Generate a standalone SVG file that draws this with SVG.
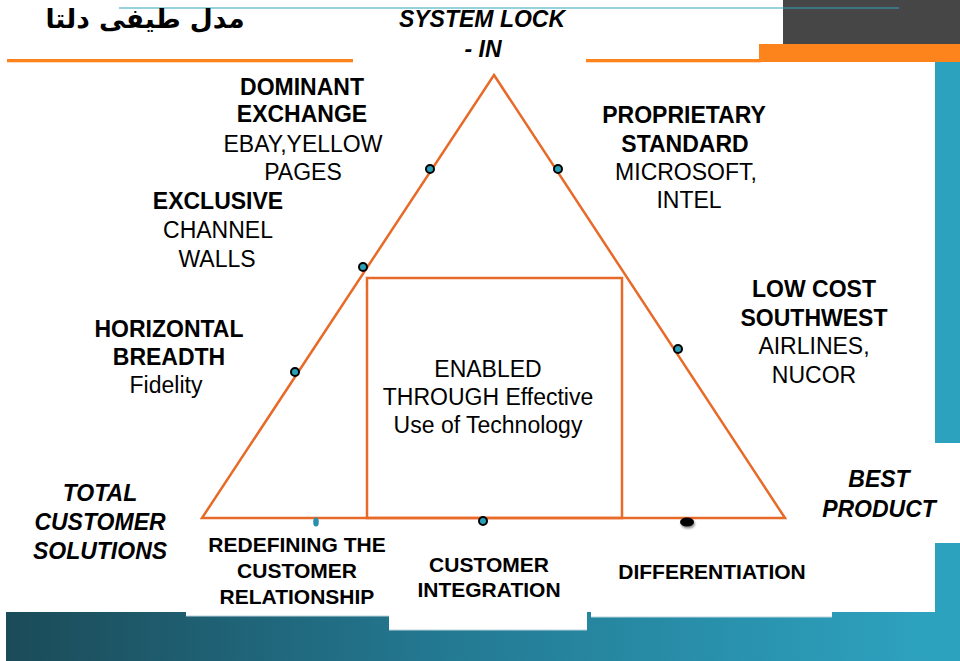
<svg xmlns="http://www.w3.org/2000/svg" width="960" height="661" viewBox="0 0 960 661">
<defs>
<linearGradient id="band" x1="0" y1="0" x2="1" y2="0">
<stop offset="0" stop-color="#1b4b58"/>
<stop offset="0.45" stop-color="#237891"/>
<stop offset="1" stop-color="#2ea5c2"/>
</linearGradient>
<filter id="sh" x="-50%" y="-50%" width="200%" height="200%">
<feDropShadow dx="1" dy="2" stdDeviation="1.2" flood-color="#000" flood-opacity="0.45"/>
</filter>
<style>
text{font-family:"Liberation Sans",Arial,sans-serif;fill:#000;text-anchor:middle}
.b{font-weight:bold;font-size:23px}
.r{font-size:23px}
.bi{font-weight:bold;font-style:italic;font-size:23px}
.s{font-weight:bold;font-size:21px}
.edge{fill:none;stroke:#e86a28;stroke-width:2.5}
.dot{fill:#2aa0b8;stroke:#000;stroke-width:2}
.wb{fill:#fff}
.wl{stroke:#b9d3dc;stroke-width:1}
</style>
</defs>
<rect width="960" height="661" fill="#fff"/>
<g id="decor">
<rect x="6" y="612" width="954" height="49" fill="url(#band)"/>
<rect class="wb" x="186" y="530" width="203" height="86"/>
<rect class="wb" x="389" y="530" width="198" height="100"/>
<rect class="wb" x="591" y="530" width="241" height="87"/>
<line class="wl" x1="186" y1="616" x2="389" y2="616"/>
<line class="wl" x1="389" y1="630" x2="587" y2="630"/>
<line class="wl" x1="591" y1="617" x2="832" y2="617"/>
<rect class="wb" x="832" y="530" width="103" height="82"/>
<rect x="935" y="62" width="25" height="381" fill="#2ca2bf"/>
<rect x="935" y="543" width="25" height="118" fill="#2ca2bf"/>
<rect x="783" y="0" width="177" height="44" fill="#464646"/>
<rect x="759" y="44" width="201" height="18" fill="#fd831c"/>
<rect x="7" y="59" width="346" height="3.3" fill="#fd831c"/>
<rect x="586" y="59" width="175" height="3.3" fill="#fd831c"/>
<line x1="119" y1="8" x2="899" y2="8" stroke="#2ea3c0" stroke-width="1.2"/>
</g>
<g id="title">
<text x="145" y="28" direction="rtl" style="font-family:'DejaVu Sans',sans-serif;font-weight:bold;font-size:26.5px">مدل طیفی دلتا</text>
</g>
<g id="connectors">
<polygon class="edge" points="494,75 785,518 202,518"/>
<rect class="edge" x="367" y="278" width="255" height="240"/>
</g>
<g id="dots">
<circle class="dot" cx="430" cy="169" r="4"/>
<circle class="dot" cx="558" cy="169" r="4"/>
<circle class="dot" cx="363" cy="267" r="4"/>
<circle class="dot" cx="295" cy="372" r="4"/>
<circle class="dot" cx="678" cy="349" r="4"/>
<circle class="dot" cx="483" cy="521" r="4"/>
<ellipse cx="316" cy="522" rx="2.8" ry="4.5" fill="#2a8fab"/>
<ellipse cx="687" cy="522" rx="7" ry="4.5" fill="#000" filter="url(#sh)"/>
</g>
<g id="system-lock-in">
<text class="bi" x="482" y="27">SYSTEM LOCK</text>
<text class="bi" x="483" y="57">- IN</text>
</g>
<g id="dominant-exchange">
<text class="b" x="302" y="95">DOMINANT</text>
<text class="b" x="302" y="122">EXCHANGE</text>
<text class="r" x="303" y="151.5">EBAY,YELLOW</text>
<text class="r" x="303" y="180">PAGES</text>
</g>
<g id="exclusive-channel">
<text class="b" x="218" y="209">EXCLUSIVE</text>
<text class="r" x="218" y="238">CHANNEL</text>
<text class="r" x="217" y="266.5">WALLS</text>
</g>
<g id="proprietary-standard">
<text class="b" x="684" y="123">PROPRIETARY</text>
<text class="b" x="685" y="151.5">STANDARD</text>
<text class="r" x="686" y="180">MICROSOFT,</text>
<text class="r" x="689" y="208">INTEL</text>
</g>
<g id="horizontal-breadth">
<text class="b" x="169" y="337">HORIZONTAL</text>
<text class="b" x="169" y="365">BREADTH</text>
<text class="r" x="166" y="393">Fidelity</text>
</g>
<g id="low-cost">
<text class="b" x="814" y="297">LOW COST</text>
<text class="b" x="814" y="326">SOUTHWEST</text>
<text class="r" x="814" y="354">AIRLINES,</text>
<text class="r" x="814" y="383">NUCOR</text>
</g>
<g id="enabled">
<text class="r" x="488" y="377">ENABLED</text>
<text class="r" x="488" y="405">THROUGH Effective</text>
<text class="r" x="488" y="433">Use of Technology</text>
</g>
<g id="total-customer-solutions">
<text class="bi" x="100" y="501">TOTAL</text>
<text class="bi" x="100" y="530">CUSTOMER</text>
<text class="bi" x="100" y="559">SOLUTIONS</text>
</g>
<g id="best-product">
<text class="bi" x="879" y="487">BEST</text>
<text class="bi" x="879" y="516.5">PRODUCT</text>
</g>
<g id="redefining">
<text class="s" x="297" y="552">REDEFINING THE</text>
<text class="s" x="297" y="578">CUSTOMER</text>
<text class="s" x="297" y="603.5">RELATIONSHIP</text>
</g>
<g id="customer-integration">
<text class="s" x="489" y="572">CUSTOMER</text>
<text class="s" x="489" y="597">INTEGRATION</text>
</g>
<g id="differentiation">
<text class="s" x="712" y="579">DIFFERENTIATION</text>
</g>
</svg>
